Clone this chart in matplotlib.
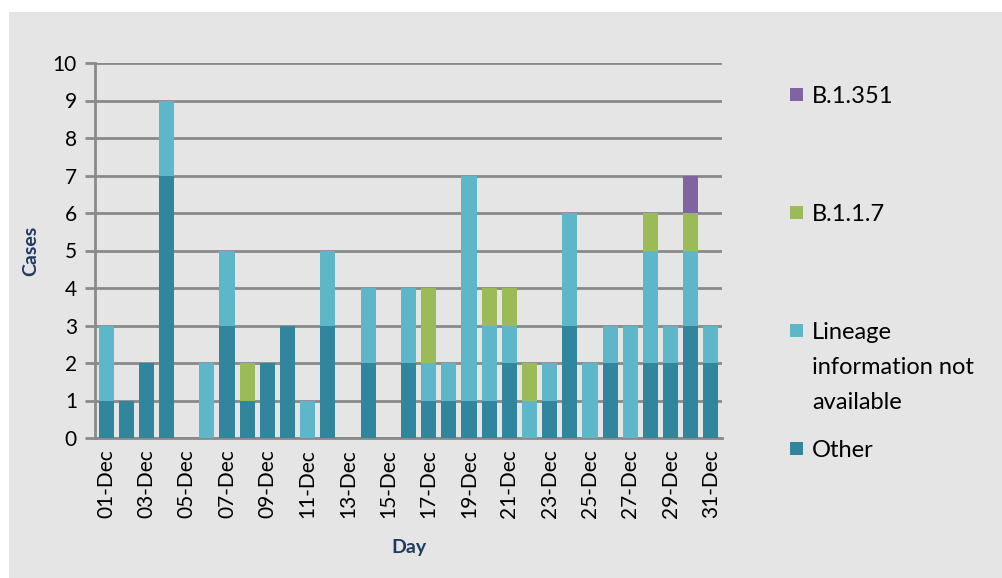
import numpy as np
import matplotlib.pyplot as plt
from matplotlib.patches import Rectangle

# Daily cases by lineage, December
days = [f"{d:02d}-Dec" for d in range(1, 32)]
other = [1, 1, 2, 7, 0, 0, 3, 1, 2, 3, 0, 3, 0, 2, 0, 2, 1, 1, 1, 1, 2, 0, 1, 3, 0, 2, 0, 2, 2, 3, 2]
lineage_na = [2, 0, 0, 2, 0, 2, 2, 0, 0, 0, 1, 2, 0, 2, 0, 2, 1, 1, 6, 2, 1, 1, 1, 3, 2, 1, 3, 3, 1, 2, 1]
b117 = [0, 0, 0, 0, 0, 0, 0, 1, 0, 0, 0, 0, 0, 0, 0, 0, 2, 0, 0, 1, 1, 1, 0, 0, 0, 0, 0, 1, 0, 1, 0]
b1351 = [0] * 29 + [1, 0]

series = [
    ("Other", other, "#31859c"),
    ("Lineage\ninformation not\navailable", lineage_na, "#5eb6c9"),
    ("B.1.1.7", b117, "#9bbb59"),
    ("B.1.351", b1351, "#8064a2"),
]

plt.rcParams['font.family'] = ['Lato', 'DejaVu Sans']

fig = plt.figure(figsize=(10.03, 5.78), dpi=100)
fig.patches.append(Rectangle((9 / 1003, 0), 1, 1 - 12 / 578, transform=fig.transFigure,
                             facecolor="#e5e5e5", edgecolor="none", zorder=-10))
ax = fig.add_axes([95 / 1003, 1 - 438 / 578, (722 - 95) / 1003, (438 - 63) / 578])
ax.set_facecolor("#e5e5e5")

x = np.arange(len(days))
bottom = np.zeros(len(days))
for name, vals, col in series:
    vals = np.array(vals)
    ax.bar(x, vals, width=0.75, bottom=bottom, color=col, zorder=3)
    bottom += vals

ax.set_xlim(-0.55, len(days) - 0.45)
ax.set_ylim(0, 10)
ax.set_yticks(range(11))
ax.set_xticks(x[::2])
ax.set_xticklabels(days[::2], rotation=90, fontsize=15)
ax.tick_params(axis='y', labelsize=15, length=7, width=2, color="#898989", pad=6)
ax.tick_params(axis='x', length=0, pad=8)
ax.grid(axis='y', color="#898989", linewidth=2, zorder=0)
for s in ["top", "right"]:
    ax.spines[s].set_visible(False)
ax.spines["left"].set_color("#898989")
ax.spines["left"].set_linewidth(2)
ax.spines["bottom"].set_color("#898989")
ax.spines["bottom"].set_linewidth(2)

ax.set_ylabel("Cases", fontsize=14, fontweight="bold", color="#1f3a60", labelpad=10)
ax.set_xlabel("Day", fontsize=14, fontweight="bold", color="#1f3a60", labelpad=15)

# legend placed like the spreadsheet original
legend_y = [94, 212, 330, 448]
for (name, vals, col), yy in zip(series[::-1], legend_y):
    fig.patches.append(Rectangle((790 / 1003, 1 - (yy + 7) / 578), 13 / 1003, 13 / 578,
                                 transform=fig.transFigure, facecolor=col, edgecolor="none"))
    # first line centred on yy
    fig.text(812 / 1003, 1 - (yy - 8) / 578, name, fontsize=17, va="top", ha="left",
             linespacing=1.83, transform=fig.transFigure)

fig.savefig("out.png", dpi=100)
